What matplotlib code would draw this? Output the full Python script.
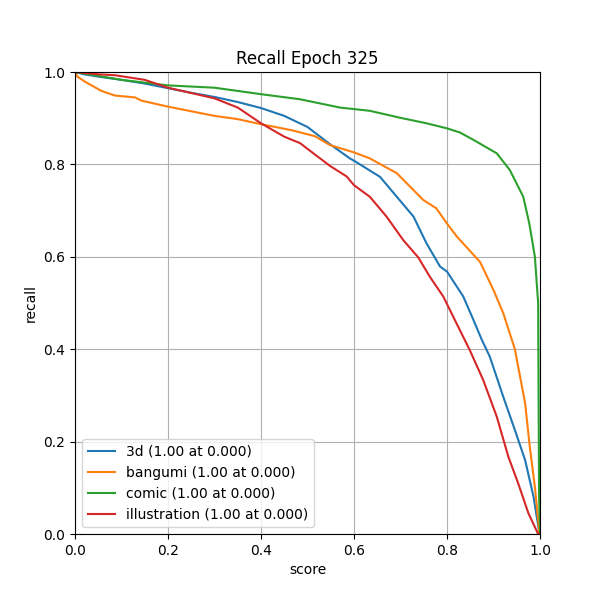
import matplotlib
matplotlib.use("Agg")
import matplotlib.pyplot as plt

# score / recall points
s_3d = [0.0, 0.02, 0.05, 0.1, 0.15, 0.2, 0.25, 0.3, 0.35, 0.4, 0.45, 0.5, 0.548, 0.591,
        0.6, 0.656, 0.692, 0.728, 0.756, 0.785, 0.8, 0.835, 0.857, 0.875, 0.892, 0.921,
        0.946, 0.968, 0.986, 0.999, 1.0]
r_3d = [1.0, 0.995, 0.99, 0.983, 0.975, 0.965, 0.955, 0.946, 0.935, 0.922, 0.905, 0.881, 0.844,
        0.813, 0.808, 0.773, 0.730, 0.687, 0.629, 0.579, 0.568, 0.514, 0.463, 0.42, 0.384,
        0.297, 0.225, 0.16, 0.081, 0.0, 0.0]

s_bg = [0.0, 0.005, 0.0215, 0.057, 0.086, 0.129, 0.143, 0.2, 0.3, 0.35, 0.4, 0.466, 0.516,
        0.548, 0.6, 0.634, 0.692, 0.749, 0.777, 0.8, 0.821, 0.871, 0.9, 0.921, 0.946,
        0.968, 0.978, 0.989, 0.999, 1.0]
r_bg = [1.0, 0.99, 0.979, 0.959, 0.949, 0.945, 0.938, 0.925, 0.905, 0.898, 0.887, 0.874, 0.861,
        0.842, 0.826, 0.813, 0.781, 0.723, 0.705, 0.672, 0.644, 0.589, 0.528, 0.478, 0.40,
        0.283, 0.189, 0.102, 0.0, 0.0]

s_cm = [0.0, 0.1, 0.2, 0.3, 0.4, 0.484, 0.57, 0.634, 0.699, 0.756, 0.8, 0.828, 0.857, 0.907,
        0.935, 0.964, 0.977, 0.989, 0.996, 0.998, 1.0]
r_cm = [1.0, 0.983, 0.971, 0.966, 0.952, 0.941, 0.923, 0.916, 0.901, 0.889, 0.878, 0.869, 0.853,
        0.824, 0.788, 0.730, 0.672, 0.60, 0.50, 0.084, 0.0]

s_il = [0.0, 0.05, 0.086, 0.15, 0.2, 0.3, 0.35, 0.4, 0.45, 0.484, 0.51, 0.548, 0.584, 0.6,
        0.634, 0.670, 0.706, 0.738, 0.763, 0.792, 0.817, 0.849, 0.878, 0.907, 0.932, 0.953,
        0.975, 0.996, 1.0]
r_il = [1.0, 0.995, 0.993, 0.983, 0.966, 0.943, 0.923, 0.889, 0.86, 0.846, 0.826, 0.797, 0.774,
        0.755, 0.730, 0.687, 0.636, 0.599, 0.557, 0.514, 0.463, 0.398, 0.333, 0.254, 0.167,
        0.11, 0.045, 0.0, 0.0]

labels = ["3d (1.00 at 0.000)", "bangumi (1.00 at 0.000)",
          "comic (1.00 at 0.000)", "illustration (1.00 at 0.000)"]

fig, ax = plt.subplots(figsize=(6, 6), dpi=100)
ax.plot(s_3d, r_3d, label=labels[0])
ax.plot(s_bg, r_bg, label=labels[1])
ax.plot(s_cm, r_cm, label=labels[2])
ax.plot(s_il, r_il, label=labels[3])
ax.set_xlim(0, 1)
ax.set_ylim(0, 1)
ax.grid(True)
ax.set_title("Recall Epoch 325")
ax.set_xlabel("score")
ax.set_ylabel("recall")
ax.legend(loc="lower left")
fig.savefig("out.png")
